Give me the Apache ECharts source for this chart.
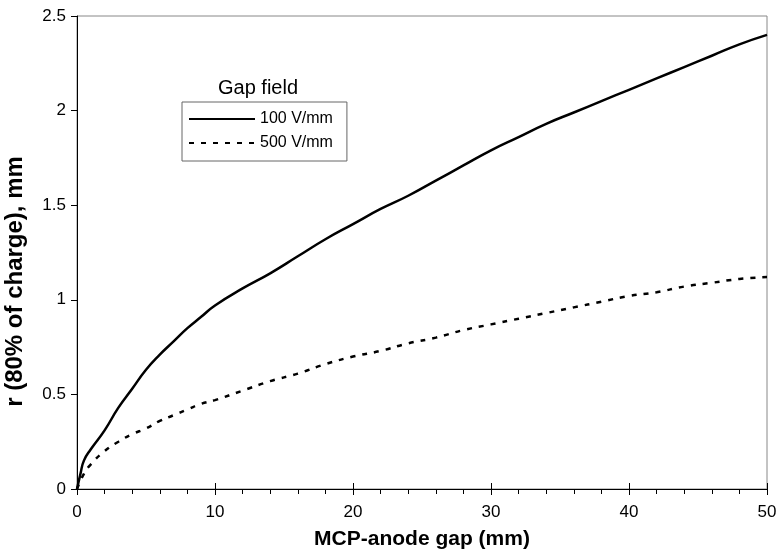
<!DOCTYPE html>
<html>
<head>
<meta charset="utf-8">
<script src="https://cdn.jsdelivr.net/npm/echarts@6/dist/echarts.min.js"></script>
<style>
  html, body { margin: 0; padding: 0; background: #fff; }
  #chart { width: 776px; height: 550px; }
</style>
</head>
<body>
<div id="chart"></div>
<script>
// gap (mm) vs r (80% of charge), mm
var gap100 = [0, 0.25, 0.5, 1, 2, 3, 4, 5, 6, 7, 8, 9, 10, 12, 14, 16, 18, 20, 22, 24, 26, 28, 30, 32, 34, 36, 38, 40, 42, 44, 46, 48, 50];
var r100 = [0, 0.08, 0.15, 0.21, 0.31, 0.43, 0.53, 0.63, 0.71, 0.78, 0.85, 0.91, 0.97, 1.06, 1.14, 1.23, 1.32, 1.40, 1.48, 1.55, 1.63, 1.71, 1.79, 1.86, 1.93, 1.99, 2.05, 2.11, 2.17, 2.23, 2.29, 2.35, 2.40];
var gap500 = [0, 0.5, 1, 2, 3, 4, 5, 6, 7, 8, 9, 10, 12, 14, 16, 18, 20, 22, 24, 26, 28, 30, 32, 34, 36, 38, 40, 42, 44, 46, 48, 50];
var r500 = [0, 0.08, 0.13, 0.20, 0.25, 0.29, 0.32, 0.36, 0.39, 0.42, 0.45, 0.47, 0.52, 0.57, 0.61, 0.66, 0.70, 0.73, 0.77, 0.80, 0.84, 0.87, 0.90, 0.93, 0.96, 0.99, 1.02, 1.04, 1.07, 1.09, 1.11, 1.12];
var seriesNames = ["100 V/mm", "500 V/mm"];

function pairs(xs, ys) {
  var arr = [];
  for (var i = 0; i < xs.length; i++) {
    arr.push([xs[i], ys[i]]);
  }
  return arr;
}

var font = "Liberation Sans, Arial, sans-serif";
var myChart = echarts.init(document.getElementById("chart"));
var option = {
  animation: false,
  textStyle: { fontFamily: font },
  title: {
    text: "Gap field",
    left: 218,
    top: 78,
    padding: 0,
    textStyle: { color: "#000", fontSize: 20, fontWeight: "normal", fontFamily: font }
  },
  legend: {
    data: seriesNames,
    orient: "vertical",
    left: 182,
    top: 102,
    padding: [9, 14, 10, 6],
    itemGap: 8,
    itemWidth: 66,
    itemHeight: 14,
    itemStyle: { opacity: 0 },
    lineStyle: { width: 2 },
    borderColor: "#666",
    borderWidth: 1,
    borderRadius: 0,
    textStyle: { color: "#000", fontSize: 16, fontFamily: font }
  },
  grid: {
    left: 77,
    right: 9,
    top: 16,
    bottom: 61,
    outerBoundsMode: "none",
    containLabel: false,
    show: true,
    borderColor: "#888",
    borderWidth: 1
  },
  xAxis: [
    {
      type: "value",
      min: 0,
      max: 50,
      interval: 10,
      name: "MCP-anode gap (mm)",
      nameLocation: "middle",
      nameGap: 40,
      nameTextStyle: { color: "#000", fontSize: 21, fontWeight: "bold", fontFamily: font },
      axisLine: { show: true, lineStyle: { color: "#000", width: 1 } },
      axisTick: { show: true, length: 6, lineStyle: { color: "#000" } },
      minorTick: { show: true, splitNumber: 5, length: 5, lineStyle: { color: "#000" } },
      axisLabel: { color: "#000", fontSize: 17, margin: 15, fontFamily: font },
      splitLine: { show: false }
    },
    {
      type: "value",
      min: 0,
      max: 50,
      interval: 10,
      position: "bottom",
      axisLine: { show: false },
      axisTick: { show: true, inside: true, length: 6, lineStyle: { color: "#000" } },
      axisLabel: { show: false },
      splitLine: { show: false }
    }
  ],
  yAxis: {
    type: "value",
    min: 0,
    max: 2.5,
    interval: 0.5,
    name: "r (80% of charge), mm",
    nameLocation: "middle",
    nameGap: 50,
    nameTextStyle: { color: "#000", fontSize: 24, fontWeight: "bold", fontFamily: font, padding: [0, 58, 0, 0] },
    axisLine: { show: true, lineStyle: { color: "#000", width: 1 } },
    axisTick: { show: true, length: 6, lineStyle: { color: "#000" } },
    axisLabel: { color: "#000", fontSize: 17, margin: 11, fontFamily: font },
    splitLine: { show: false }
  },
  series: [
    {
      name: seriesNames[0],
      type: "line",
      smooth: true,
      showSymbol: false,
      symbol: "none",
      data: pairs(gap100, r100),
      lineStyle: { color: "#000", width: 2.5, type: "solid" },
      itemStyle: { color: "#000" }
    },
    {
      name: seriesNames[1],
      type: "line",
      smooth: true,
      showSymbol: false,
      symbol: "none",
      data: pairs(gap500, r500),
      lineStyle: { color: "#000", width: 2.5, type: [5, 7] },
      itemStyle: { color: "#000" }
    }
  ]
};
myChart.setOption(option);
</script>
</body>
</html>
